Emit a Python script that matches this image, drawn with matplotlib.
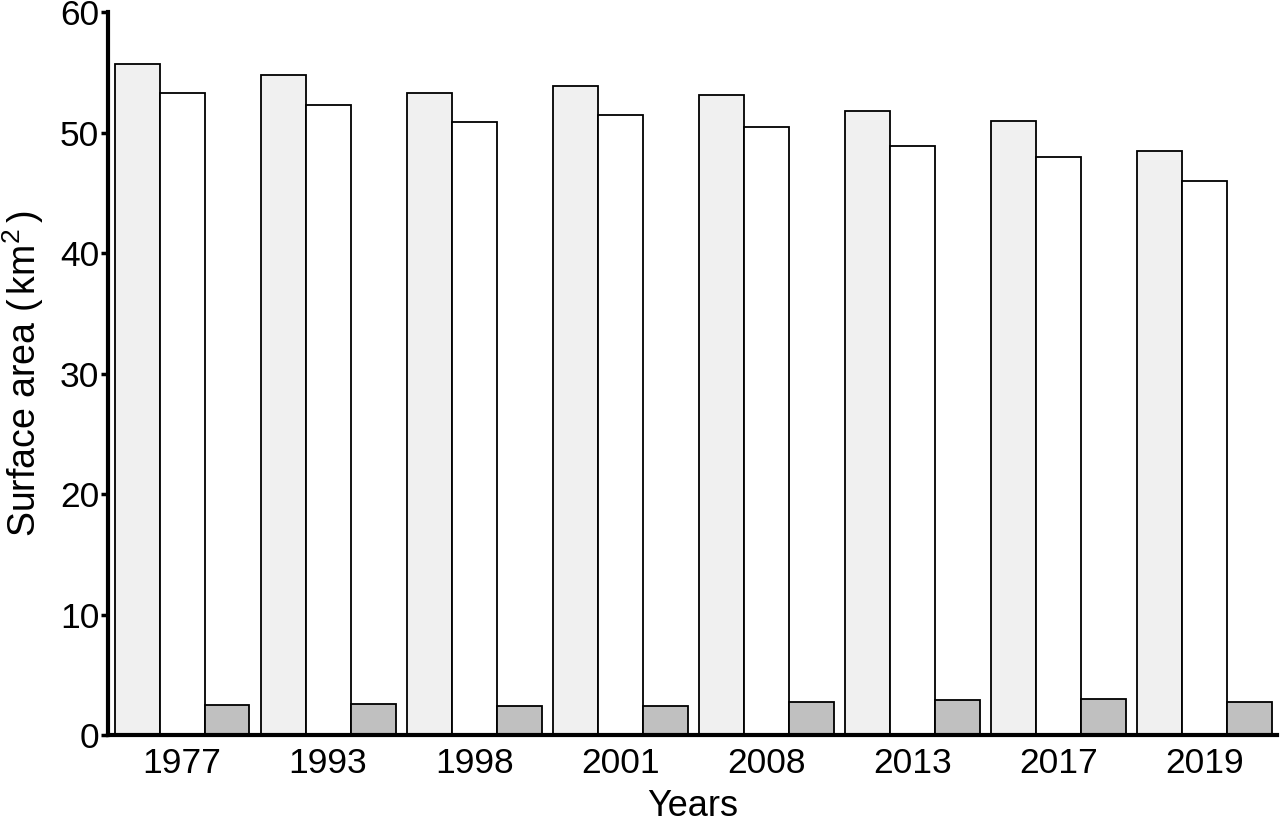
import matplotlib
matplotlib.use("Agg")
import matplotlib.pyplot as plt
import numpy as np

years = ["1977", "1993", "1998", "2001", "2008", "2013", "2017", "2019"]
series_a = [55.7, 54.8, 53.3, 53.9, 53.1, 51.8, 51.0, 48.5]
series_b = [53.3, 52.3, 50.9, 51.5, 50.5, 48.9, 48.0, 46.0]
series_c = [2.5, 2.6, 2.4, 2.4, 2.7, 2.9, 3.0, 2.7]
yticks = [0, 10, 20, 30, 40, 50, 60]

plt.rcParams['font.family'] = ['Liberation Sans', 'DejaVu Sans']
plt.rcParams['mathtext.fontset'] = 'custom'
plt.rcParams['mathtext.rm'] = 'Liberation Sans'
plt.rcParams['mathtext.it'] = 'Liberation Sans'

fig = plt.figure(figsize=(12.8, 8.23), dpi=100)
ax = fig.add_axes([0.084, 0.107, 0.914, 0.878])

x = np.arange(len(years))
w = 0.308
kw = dict(width=w, edgecolor='black', linewidth=1.3)
ax.bar(x - w, series_a, color='#f0f0f0', **kw)
ax.bar(x, series_b, color='white', **kw)
ax.bar(x + w, series_c, color='#c0c0c0', **kw)

ax.set_xlim(-0.51, 7.5)
ax.set_ylim(0, 60)
ax.set_yticks(yticks)
ax.set_xticks(x)
ax.set_xticklabels(years)
ax.tick_params(axis='x', length=0, labelsize=25.5, pad=9)
ax.tick_params(axis='y', length=5, width=2.5, labelsize=25.5, pad=1)
for s in ['top', 'right']:
    ax.spines[s].set_visible(False)
for s in ['left', 'bottom']:
    ax.spines[s].set_linewidth(3)
ax.set_xlabel('Years', fontsize=26, labelpad=6)
ax.set_ylabel(r'Surface area ($\,$km$^{2}$$\,$)', fontsize=27, labelpad=10)

fig.savefig('out.png', dpi=100)
